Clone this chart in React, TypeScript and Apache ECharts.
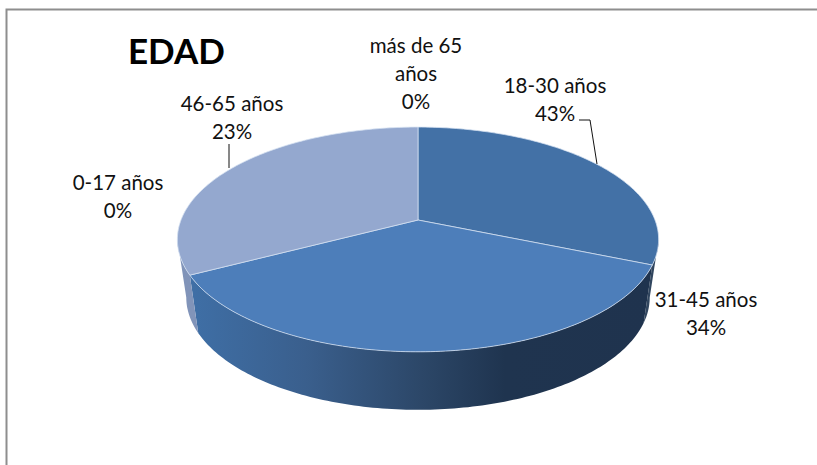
import React, { useEffect, useRef } from "react";
import * as echarts from "echarts";

const titleText = "EDAD";
const categories = ["18-30 años", "31-45 años", "0-17 años", "46-65 años", "más de 65 años"];
const percentLabels = [43, 34, 0, 23, 0];
// Share of the drawn disc that each slice covers (the printed percentages differ)
const drawnShares = [31.3, 36, 0, 32.7, 0];
const topColors = ["#4371a6", "#4d7eba", "#8fa3c9", "#94a8cf", "#94a8cf"];

const LABEL_POS = [
  { x: 555, y: 85 },
  { x: 706, y: 299 },
  { x: 118, y: 182 },
  { x: 232, y: 103 },
  { x: 416, y: 45 },
];
const LEADERS: Record<number, number[][]> = {
  0: [[579, 120], [590, 120], [597, 164]],
  3: [[229, 144], [229, 168]],
};

const CX = 418, CY = 220, B = 237, A = 109, K = 0.173;
const DEPTH = 58, SHRINK = 0.963;

function rim(deg: number): number[] {
  const r = (deg * Math.PI) / 180;
  const u = Math.sin(r), v = Math.cos(r);
  const d = 1 + K * v;
  return [CX + (B * u) / d, CY - (A * v) / d];
}
function lower(p: number[]): number[] {
  return [CX + (p[0] - CX) * SHRINK, p[1] + DEPTH];
}
function arcPts(a: number, b: number): number[][] {
  const pts: number[][] = [];
  const n = Math.max(2, Math.ceil(Math.abs(b - a)));
  for (let i = 0; i <= n; i++) pts.push(rim(a + ((b - a) * i) / n));
  return pts;
}

const total = drawnShares.reduce((s, v) => s + v, 0);

function renderSlice(params: any, api: any) {
  const i = params.dataIndex;
  const before = drawnShares.slice(0, i).reduce((s, v) => s + v, 0);
  const a = (before / total) * 360;
  const b = a + (api.value(0) / total) * 360;
  const children: any[] = [];
  if (b > a) {
    const wa = Math.max(a, 100), wb = Math.min(b, 260);
    if (wb > wa) {
      const upper = arcPts(wa, wb);
      const low = upper.map(lower).reverse();
      let fill: any = "#31465f";
      if (wb - wa > 100) {
        fill = new echarts.graphic.LinearGradient(
          190, 0, 653, 0,
          [
            { offset: 0, color: "#3f6fa6" },
            { offset: 0.25, color: "#3a5f8d" },
            { offset: 0.5, color: "#2c4768" },
            { offset: 0.68, color: "#1f344f" },
            { offset: 1, color: "#1f334e" },
          ],
          true as any
        );
      } else if (wa > 200) {
        fill = "#8194b9";
      }
      children.push({ type: "polygon", shape: { points: upper.concat(low) }, style: { fill } });
    }
    children.push({
      type: "polygon",
      shape: { points: [[CX, CY], ...arcPts(a, b)] },
      style: { fill: topColors[i], stroke: "rgba(214,225,242,0.75)", lineWidth: 1, lineJoin: "round" },
    });
  }
  return { type: "group", children };
}

function renderLabel(params: any) {
  const i = params.dataIndex;
  const pos = LABEL_POS[i];
  const name = categories[i];
  const lines = i === 4
    ? [name.replace(" años", ""), "años", percentLabels[i] + "%"]
    : [name, percentLabels[i] + "%"];
  const children: any[] = lines.map((t, j) => ({
    type: "text",
    x: pos.x,
    y: pos.y + j * 28,
    style: {
      text: t,
      fill: "#111111",
      font: "20.5px Lato",
      textAlign: "center",
      textVerticalAlign: "middle",
    },
  }));
  if (LEADERS[i]) {
    children.push({
      type: "polyline",
      shape: { points: LEADERS[i] },
      style: { stroke: "#111111", lineWidth: 1, fill: "none" },
    });
  }
  return { type: "group", children };
}

export default function App() {
  const ref = useRef<HTMLDivElement>(null);
  useEffect(() => {
    const chart = echarts.init(ref.current!, null, { renderer: "svg" });
    chart.setOption({
      animation: false,
      backgroundColor: "#ffffff",
      title: {
        text: titleText,
        left: 123,
        top: 27,
        textStyle: { fontFamily: "Lato", fontWeight: "bold", fontSize: 35, color: "#000000" },
      },
      graphic: [
        {
          type: "polyline",
          shape: { points: [[6.5, 465], [6.5, 9.5], [817, 9.5]] },
          style: { stroke: "#8e8e8e", lineWidth: 2, fill: "none" },
        },
      ],
      series: [
        {
          type: "custom",
          coordinateSystem: "none",
          silent: true,
          clip: false,
          data: drawnShares.map((v, i) => ({ name: categories[i], value: [v] })),
          renderItem: renderSlice,
        },
        {
          type: "custom",
          coordinateSystem: "none",
          silent: true,
          clip: false,
          data: percentLabels.map((v, i) => ({ name: categories[i], value: [v] })),
          renderItem: renderLabel,
        },
      ],
    });
    return () => chart.dispose();
  }, []);
  return <div ref={ref} style={{ position: "absolute", left: 0, top: 0, width: 817, height: 465 }} />;
}
